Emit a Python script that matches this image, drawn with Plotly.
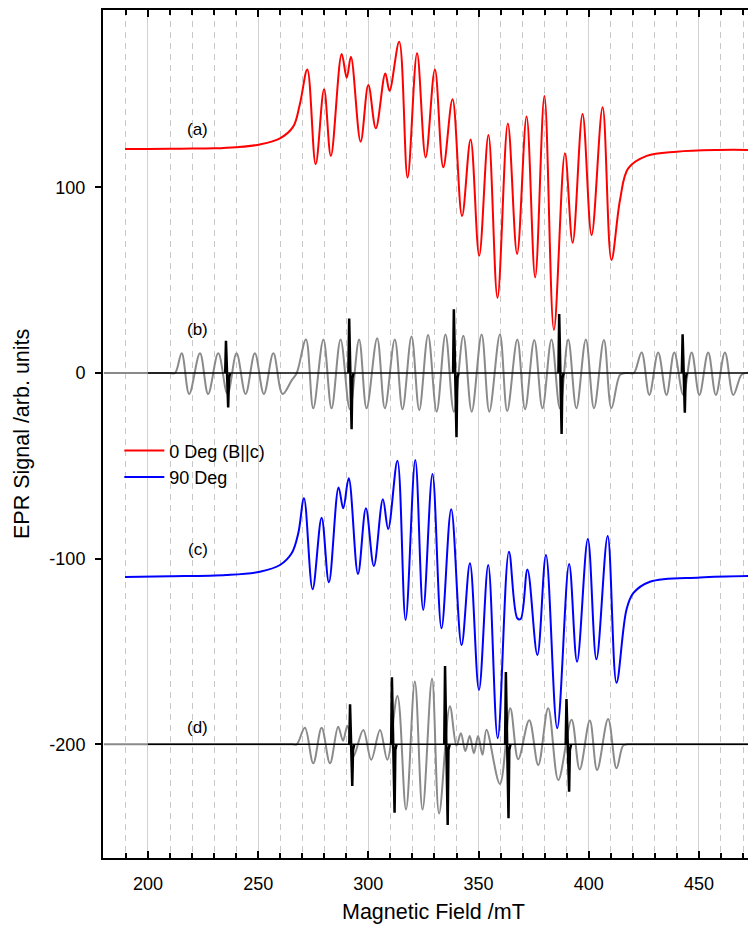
import plotly.graph_objects as go

# ---------------- data ----------------
# (a) 0 Deg (B||c) experimental spectrum (offset baseline ~ +121)
red_x = [189.6, 200, 215, 230, 240, 250.8, 259.9, 265.9, 269.0, 272.3, 276.1, 279.9, 283.0, 287.9,
         290.2, 292.1, 296.5, 300.0, 303.4, 307.7, 309.6, 314.0, 317.8, 322.1, 326.0, 330.2, 334.0,
         338.2, 342.5, 346.4, 350.3, 354.5, 358.6, 363.3, 367.5, 371.8, 375.7, 379.9, 384.2, 389.2,
         392.7, 397.2, 401.3, 406.3, 410.3, 414.2, 417.9, 426.3, 439.9, 458.0, 476.0]
red_y = [120.6, 120.6, 120.8, 121.0, 121.6, 123.1, 126.4, 132.7, 145.2, 163.5, 112.4, 152.8, 116.9, 171.8,
         159.0, 170.3, 124.6, 155.1, 131.8, 161.3, 152.0, 178.4, 105.3, 172.2, 116.1, 163.5, 110.8,
         147.4, 84.5, 125.8, 63.2, 128.2, 40.5, 134.4, 64.1, 138.1, 51.5, 149.2, 23.2, 118.3,
         70.2, 139.5, 74.3, 143.1, 60.9, 93.2, 110.2, 116.9, 119.2, 120.1, 120.1]

# (c) 90 Deg experimental spectrum (offset baseline ~ -109)
blue_x = [189.6, 210, 235.6, 250.8, 259.9, 265.2, 268.2, 270.8, 274.7, 278.8, 282.1, 286.5, 288.6,
          291.1, 295.3, 298.9, 302.5, 306.6, 309.0, 313.2, 316.9, 321.3, 324.9, 329.1, 333.2, 337.6,
          342.3, 346.1, 350.2, 354.4, 358.7, 363.8, 367.6, 369.1, 372.2, 376.7, 380.6, 385.7, 391.1,
          394.7, 399.6, 403.5, 408.6, 412.6, 417.1, 420.2, 427.8, 450.5, 476.0]
blue_y = [-109.8, -109.5, -108.8, -107.0, -103.4, -97.1, -86.3, -67.5, -116.5, -77.9, -112.7, -61.6, -72.9,
          -56.7, -108.2, -72.9, -103.9, -68.0, -84.0, -47.2, -133.0, -46.8, -127.6, -54.4, -137.5, -73.4,
          -146.5, -102.5, -170.7, -103.4, -196.7, -96.2, -132.1, -132.5, -105.8, -151.9, -98.0, -191.3, -102.9,
          -155.5, -89.4, -154.2, -87.8, -166.8, -127.6, -118.6, -112.4, -110.1, -109.3]

# (b) simulated spectrum for 0 Deg (grey), baseline 0
simb_x = [180, 190, 200, 206, 210, 212.3, 215.3, 218.7, 223.6, 227.3, 231.9, 236.1, 240.2, 244.3, 248.5,
          252.6, 256.9, 261.1, 265.2, 267.5, 271.7, 275.0, 279.6, 283.3, 287.4, 291.6, 295.8, 299.2,
          304.0, 307.5, 312.0, 315.5, 319.6, 323.1, 327.1, 331.0, 335.0, 338.8, 343.1, 346.9, 351.4,
          354.9, 359.7, 363.0, 367.6, 371.1, 375.3, 379.0, 383.1, 386.9, 390.7, 394.4, 398.7, 402.4,
          406.9, 410.3, 414.2, 416.5, 418.5, 420.5, 424.0, 427.5, 431.5, 435.3, 438.8, 442.9, 446.7,
          450.2, 454.2, 457.7, 461.8, 465.6, 469.3, 471.5, 474, 480]
simb_y = [0, 0, 0, 0, 0, 0, 10.6, -11.3, 10.6, -11.3, 10.6, -11.3, 10.6, -11.3, 10.6,
          -11.3, 10.6, -11.3, -4, 0, 18.1, -19.0, 18.1, -19.0, 18.1, -19.5, 18.1, -19.0,
          18.7, -19.0, 18.1, -19.5, 19.6, -20.0, 20.5, -20.8, 20.8, -20.8, 20.1, -20.8, 20.8,
          -20.8, 20.8, -20.5, 18.1, -19.5, 17.8, -19.0, 18.1, -19.0, 18.1, -19.0, 18.1, -19.0,
          17.8, -19.0, -1, 0, 0, 0, 11.1, -11.8, 11.1, -11.8, 11.1, -11.8, 11.1,
          -11.8, 11.1, -11.8, 11.1, -11.8, -1, 0, 0, 0]

# (d) simulated spectrum for 90 Deg (grey), baseline -200
simd_x = [180, 190, 200, 220, 240, 255, 262, 265.5, 267.5, 271.2, 275.0, 278.8, 282.6, 286.3, 288.5,
          290.5, 293.2, 297.7, 301.3, 305.3, 308.6, 313.2, 317.1, 321.1, 324.6, 328.9, 332.1, 337.0,
          340.0, 342.0, 344.0, 346.0, 347.9, 349.8, 351.8, 353.6, 359.7, 364.4, 368.0, 373.0, 377.1,
          381.6, 386.2, 392.2, 395.9, 400.5, 403.8, 408.8, 412.6, 415.6, 417.5, 420, 430, 480]
simd_y = [-200, -200, -200, -200, -200, -200, -200, -200, -200, -191.0, -210.2, -191.0, -210.2, -190.5, -198.0,
          -190.0, -206.5, -192.2, -208.3, -192.2, -208.3, -174.0, -235.1, -166.1, -235.1, -164.7, -237.2, -179.5,
          -200.7, -194.0, -203.6, -195.5, -204.7, -195.5, -205.6, -192.1, -221.3, -180.5, -208.0, -187.0, -211.1,
          -180.5, -219.2, -186.8, -213.5, -187.2, -213.8, -186.4, -212.9, -200.7, -200, -200, -200, -200]

# narrow-line (stick) simulations, black
base_b = 0
base_d = -200
line_start, line_end = 200, 480
stick_b_xtop = [235.4, 291.3, 338.8, 386.6, 442.6]
stick_b_top = [17.4, 29.4, 34.3, 31.8, 20.8]
stick_b_xbot = [236.4, 292.4, 340.0, 387.7, 443.6]
stick_b_bot = [-18.5, -30.3, -34.6, -32.8, -21.4]

stick_d_xtop = [291.7, 310.7, 334.8, 362.4, 389.9]
stick_d_top = [-178.4, -163.9, -157.8, -161.0, -175.6]
stick_d_xbot = [292.7, 311.9, 336.0, 363.6, 391.1]
stick_d_bot = [-222.4, -236.8, -243.4, -239.8, -225.5]

labels = ["(a)", "(b)", "(c)", "(d)"]
label_x = [222.7, 222.7, 222.7, 222.7]
label_y = [130.9, 23.5, -94.9, -191.0]

x_ticks = [200, 250, 300, 350, 400, 450]
y_ticks = [-200, -100, 0, 100]
y_ticktext = ["-200", "-100", "0", "100"]

x_title = "Magnetic Field /mT"
y_title = "EPR Signal /arb. units"

FONT = "Liberation Sans, Arial, sans-serif"


def stick_path(xt, yt, xb, yb, base):
    xs, ys = [], []
    for a, b, c, d in zip(xt, yt, xb, yb):
        xs += [a - 0.35, a, c, c + 0.35, c + 0.9, None]
        ys += [base, b, d, base - 3, base, None]
    return xs, ys


fig = go.Figure()

grey = "#8a8a8a"
fig.add_trace(go.Scatter(x=simb_x, y=simb_y, mode="lines", line=dict(color=grey, width=2, shape="spline"),
                         showlegend=False, hoverinfo="skip"))
fig.add_trace(go.Scatter(x=simd_x, y=simd_y, mode="lines", line=dict(color=grey, width=2, shape="spline"),
                         showlegend=False, hoverinfo="skip"))

for base in (base_b, base_d):
    fig.add_trace(go.Scatter(x=[line_start, line_end], y=[base, base], mode="lines",
                             line=dict(color="black", width=1.5), showlegend=False, hoverinfo="skip"))

sx, sy = stick_path(stick_b_xtop, stick_b_top, stick_b_xbot, stick_b_bot, base_b)
fig.add_trace(go.Scatter(x=sx, y=sy, mode="lines", line=dict(color="black", width=2.5),
                         showlegend=False, hoverinfo="skip"))
sx, sy = stick_path(stick_d_xtop, stick_d_top, stick_d_xbot, stick_d_bot, base_d)
fig.add_trace(go.Scatter(x=sx, y=sy, mode="lines", line=dict(color="black", width=2.5),
                         showlegend=False, hoverinfo="skip"))

fig.add_trace(go.Scatter(x=red_x, y=red_y, mode="lines", name="0 Deg (B||c)",
                         line=dict(color="#ff0000", width=2, shape="spline")))
fig.add_trace(go.Scatter(x=blue_x, y=blue_y, mode="lines", name="90 Deg",
                         line=dict(color="#0000ff", width=2, shape="spline")))

for t, x, y in zip(labels, label_x, label_y):
    fig.add_annotation(x=x, y=y, text=t, showarrow=False, xref="x", yref="y",
                       font=dict(family=FONT, size=17, color="black"))

# axis titles (placed in paper coordinates)
fig.add_annotation(x=0.506, y=-0.0637, xref="paper", yref="paper", text=x_title, showarrow=False,
                   xanchor="center", yanchor="middle", font=dict(family=FONT, size=21.5, color="black"))
fig.add_annotation(x=-0.124, y=0.5, xref="paper", yref="paper", text=y_title, showarrow=False,
                   textangle=-90, xanchor="center", yanchor="middle",
                   font=dict(family=FONT, size=21.5, color="black"))

# the page body adds an 8px margin, so the figure is 8px smaller and margins shifted
fig.update_layout(
    width=748, height=920,
    margin=dict(l=95, r=0, t=2, b=70, autoexpand=False),
    paper_bgcolor="white", plot_bgcolor="white",
    font=dict(family=FONT, size=18, color="black"),
    legend=dict(x=0.025, y=0.502, xanchor="left", yanchor="top", bgcolor="rgba(0,0,0,0)",
                font=dict(family=FONT, size=18), tracegroupgap=0, itemwidth=40),
    xaxis=dict(
        range=[179.6, 475.9], tickvals=x_ticks, ticks="inside", ticklen=7, tickwidth=1.5,
        tickcolor="black", showline=True, linewidth=2, linecolor="black", mirror="ticks",
        showgrid=True, gridcolor="#d2d2d2", gridwidth=1, zeroline=False, automargin=False,
        minor=dict(dtick=10, tick0=0, ticks="inside", ticklen=5, tickwidth=1.5, tickcolor="black",
                   showgrid=True, gridcolor="#c8c8c8", gridwidth=1, griddash="6px,5px"),
        ticklabelstandoff=8,
        tickfont=dict(family=FONT, size=18),
    ),
    yaxis=dict(
        range=[-261.2, 195.5], tickvals=y_ticks, ticktext=y_ticktext, ticks="outside", ticklen=6,
        tickwidth=1.5, tickcolor="black", showline=True, linewidth=2, linecolor="black", mirror=False,
        showgrid=False, zeroline=False, ticklabelstandoff=6, automargin=False,
        tickfont=dict(family=FONT, size=18),
    ),
)

fig.write_html("out.html")
